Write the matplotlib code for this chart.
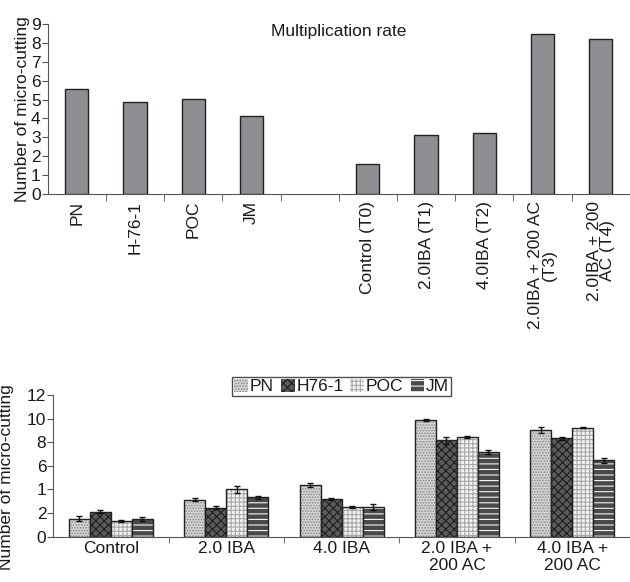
import matplotlib
matplotlib.use("Agg")
from matplotlib import pyplot as plt
import numpy as np

# top chart: multiplication rate
top_labels = ["PN", "H-76-1", "POC", "JM", "", "Control (T0)", "2.0IBA (T1)",
              "4.0IBA (T2)", "2.0IBA + 200 AC\n(T3)", "2.0IBA + 200\nAC (T4)"]
top_values = [5.55, 4.86, 5.04, 4.12, np.nan, 1.57, 3.11, 3.22, 8.47, 8.21]

# bottom chart: rooting per treatment and clone
groups = ["Control", "2.0 IBA", "4.0 IBA", "2.0 IBA +\n200 AC", "4.0 IBA +\n200 AC"]
clones = ["PN", "H76-1", "POC", "JM"]
pn = [1.52, 3.13, 4.38, 9.91, 9.06]
h76 = [2.12, 2.46, 3.19, 8.16, 8.33]
poc = [1.33, 4.01, 2.54, 8.44, 9.23]
jm = [1.52, 3.33, 2.48, 7.17, 6.47]
pn_err = [0.2, 0.12, 0.15, 0.1, 0.25]
h76_err = [0.15, 0.1, 0.1, 0.3, 0.1]
poc_err = [0.1, 0.3, 0.1, 0.12, 0.05]
jm_err = [0.15, 0.1, 0.25, 0.2, 0.2]
bottom_yticks = [0, 2, 4, 6, 8, 10, 12]
bottom_yticklabels = ["0", "2", "1", "6", "8", "10", "12"]

plt.rcParams["font.family"] = ["Liberation Sans", "DejaVu Sans"]
plt.rcParams["hatch.linewidth"] = 0.8
fs = 12.5
axis_col = "#555555"
text_col = "#1a1a1a"

fig = plt.figure(figsize=(6.3, 5.82), dpi=100)

# ---- top ----
ax1 = fig.add_axes([0.0757, 0.6672, 0.924, 0.291])
x1 = np.arange(len(top_labels))
ax1.bar(x1, top_values, width=0.4, color="#8e8f93", edgecolor="#222222", linewidth=1)
ax1.set_xlim(-0.5, len(top_labels) - 0.5)
ax1.set_ylim(0, 9)
ax1.set_yticks(range(10))
ax1.set_xticks(x1, top_labels, rotation=90, fontsize=fs, color=text_col,
               multialignment="center", linespacing=0.85)
ax1.set_xticks(np.arange(0.5, len(top_labels) - 0.5), minor=True)
ax1.tick_params(axis="x", which="major", length=0, pad=5)
ax1.tick_params(axis="x", which="minor", length=5, color=axis_col)
ax1.tick_params(axis="y", labelsize=fs, labelcolor=text_col, length=4, color=axis_col, pad=1)
ax1.set_ylabel("Number of micro-cutting", fontsize=fs, color=text_col, labelpad=1)
ax1.text(0.5, 0.955, "Multiplication rate", transform=ax1.transAxes,
         ha="center", va="center", fontsize=fs, color=text_col)
for s in ["top", "right"]:
    ax1.spines[s].set_visible(False)
for s in ["left", "bottom"]:
    ax1.spines[s].set_color(axis_col)

# ---- bottom ----
ax2 = fig.add_axes([0.0846, 0.0778, 0.9154, 0.2435])
x2 = np.arange(len(groups))
w = 0.182
series = [pn, h76, poc, jm]
errs = [pn_err, h76_err, poc_err, jm_err]
faces = ["#d4d4d4", "#5a5a5a", "#f2f2f2", "#4a4a4a"]
hatch_cols = ["#8a8a8a", "#1e1e1e", "#a8a8a8", "#f0f0f0"]
hatches = ["......", "xxxx", "++++", "---"]
handles = []
for i, (vals, err) in enumerate(zip(series, errs)):
    pos = x2 + (i - 1.5) * w
    ax2.bar(pos, vals, width=w, color=faces[i], edgecolor=hatch_cols[i],
            hatch=hatches[i], linewidth=0)
    ax2.bar(pos, vals, width=w, fill=False, edgecolor="#222222", linewidth=1)
    ax2.errorbar(pos, vals, yerr=err, fmt="none", ecolor="#111111",
                 elinewidth=1, capsize=2, capthick=1)
    handles.append(plt.Rectangle((0, 0), 1, 1, facecolor=faces[i],
                                 edgecolor=hatch_cols[i], hatch=hatches[i], linewidth=0))
ax2.set_xlim(-0.5, len(groups) - 0.5)
ax2.set_ylim(0, 12)
ax2.set_yticks(bottom_yticks, bottom_yticklabels)
ax2.set_xticks(x2, groups, fontsize=fs, color=text_col)
ax2.set_xticks(np.arange(0.5, len(groups) - 0.5), minor=True)
ax2.tick_params(axis="x", which="major", length=0, pad=3)
ax2.tick_params(axis="x", which="minor", length=4, color=axis_col)
ax2.tick_params(axis="y", labelsize=fs, labelcolor=text_col, length=4, color=axis_col, pad=1)
ax2.set_ylabel("Number of micro-cutting", fontsize=fs, color=text_col, labelpad=2)
ax2.yaxis.set_label_coords(-0.068, 0.42)
for s in ["top", "right"]:
    ax2.spines[s].set_visible(False)
for s in ["left", "bottom"]:
    ax2.spines[s].set_color(axis_col)
leg = ax2.legend(handles, clones, ncol=4, loc="center", bbox_to_anchor=(0.5, 1.06),
                 fontsize=fs, frameon=True, fancybox=False, edgecolor="#222222",
                 handlelength=0.8, handleheight=0.8, handletextpad=0.1,
                 columnspacing=0.4, borderpad=0.1, borderaxespad=0)
leg.get_frame().set_linewidth(1)
for t in leg.get_texts():
    t.set_color(text_col)

fig.savefig("out.png", dpi=100)
